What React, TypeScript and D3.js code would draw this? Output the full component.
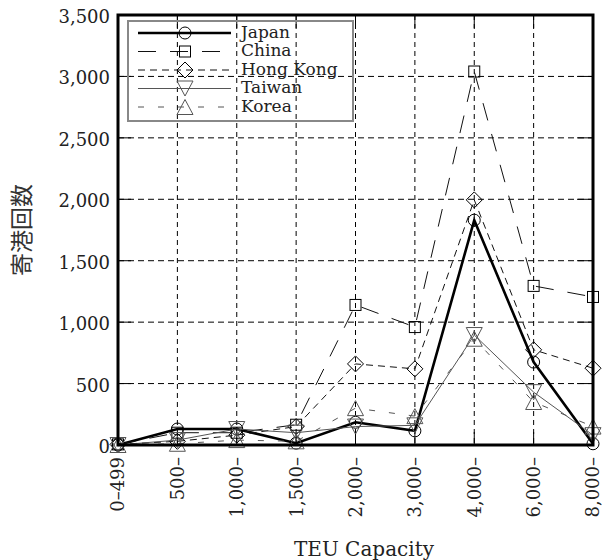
import React from "react";
import * as d3 from "d3";

const categories = ["0–499", "500–", "1,000–", "1,500–", "2,000–", "3,000–", "4,000–", "6,000–", "8,000–"];
const japan = [0, 130, 130, 15, 185, 115, 1830, 675, 10];
const china = [5, 100, 100, 165, 1140, 960, 3040, 1295, 1205];
const hongKong = [5, 30, 80, 150, 660, 620, 1995, 775, 625];
const taiwan = [0, 40, 130, 100, 150, 160, 895, 430, 80];
const korea = [0, 10, 40, 30, 300, 235, 865, 350, 150];
const yTicks = [0, 500, 1000, 1500, 2000, 2500, 3000, 3500];

const seriesNames = ["Japan", "China", "Hong Kong", "Taiwan", "Korea"];
const seriesValues = [japan, china, hongKong, taiwan, korea];

type Style = { stroke: string; width: number; dash: string | null; marker: string; mstroke: string };
const styles: Style[] = [
  { stroke: "#000", width: 2.6, dash: null, marker: "circle", mstroke: "#000" },
  { stroke: "#111", width: 1, dash: "18,14", marker: "square", mstroke: "#000" },
  { stroke: "#111", width: 1, dash: "7,5", marker: "diamond", mstroke: "#000" },
  { stroke: "#555", width: 1, dash: null, marker: "tridown", mstroke: "#555" },
  { stroke: "#555", width: 1, dash: "6,14", marker: "triup", mstroke: "#555" },
];

const W = 602, H = 560;
const left = 118, right = 593, top = 15, bottom = 445;
const FONT = "'DejaVu Serif', serif";

function Marker({ type, x, y, color }: { type: string; x: number; y: number; color: string }) {
  const common = { fill: "none", stroke: color, strokeWidth: 1 };
  if (type === "circle") return <circle cx={x} cy={y} r={6} {...common} />;
  if (type === "square") return <rect x={x - 5.5} y={y - 5.5} width={11} height={11} {...common} />;
  if (type === "diamond") return <path d={`M${x},${y - 8}L${x + 8},${y}L${x},${y + 8}L${x - 8},${y}Z`} {...common} />;
  if (type === "tridown") return <path d={`M${x - 8},${y - 7.5}L${x + 8},${y - 7.5}L${x},${y + 7.5}Z`} {...common} />;
  return <path d={`M${x - 8},${y + 7.5}L${x + 8},${y + 7.5}L${x},${y - 7.5}Z`} {...common} />;
}

export default function App() {
  const x = d3.scalePoint<string>().domain(categories).range([left, right]);
  const y = d3.scaleLinear().domain([0, 3500]).range([bottom, top]);
  const fmt = d3.format(",");
  const line = d3
    .line<number>()
    .x((_, i) => x(categories[i]) as number)
    .y((v) => y(v));

  const legendY0 = 33, legendStep = 18.5;

  return (
    <svg width={W} height={H} style={{ position: "absolute", left: 0, top: 0, background: "#fff" }}>
      {/* grid */}
      {yTicks.map((t) => (
        <line key={"gy" + t} x1={left} x2={right} y1={y(t)} y2={y(t)} stroke="#000" strokeWidth={1} strokeDasharray="6,4" />
      ))}
      {categories.map((c) => (
        <line key={"gx" + c} x1={x(c)} x2={x(c)} y1={top} y2={bottom} stroke="#000" strokeWidth={1} strokeDasharray="5,4" />
      ))}
      {/* ticks inward */}
      {yTicks.map((t) => (
        <g key={"ty" + t}>
          <line x1={left} x2={left + 13} y1={y(t)} y2={y(t)} stroke="#000" strokeWidth={1} />
          <line x1={right - 16} x2={right} y1={y(t)} y2={y(t)} stroke="#000" strokeWidth={1} />
        </g>
      ))}
      {categories.map((c) => (
        <g key={"tx" + c}>
          <line x1={x(c)} x2={x(c)} y1={bottom - 13} y2={bottom} stroke="#000" strokeWidth={1} />
          <line x1={x(c)} x2={x(c)} y1={top} y2={top + 13} stroke="#000" strokeWidth={1} />
        </g>
      ))}
      {/* series */}
      {seriesValues.map((vals, si) => {
        const s = styles[si];
        return (
          <g key={"s" + si}>
            <path d={line(vals) || ""} fill="none" stroke={s.stroke} strokeWidth={s.width} strokeDasharray={s.dash || undefined} />
            {vals.map((v, i) => (
              <Marker key={i} type={s.marker} x={x(categories[i]) as number} y={y(v)} color={s.mstroke} />
            ))}
          </g>
        );
      })}
      {/* frame */}
      <rect x={left} y={top} width={right - left} height={bottom - top} fill="none" stroke="#000" strokeWidth={3} />
      {/* y tick labels */}
      {yTicks.map((t) => (
        <text key={"yl" + t} x={110} y={y(t) + 3} textAnchor="end" dominantBaseline="middle" fontFamily={FONT} fontSize={18} fill="#222">
          {fmt(t)}
        </text>
      ))}
      {/* x tick labels */}
      {categories.map((c) => (
        <text
          key={"xl" + c}
          transform={`translate(${x(c)},${457}) rotate(-90)`}
          textAnchor="end"
          dy="0.36em"
          fontFamily={FONT}
          fontSize={18}
          fill="#222"
        >
          {c}
        </text>
      ))}
      {/* axis titles */}
      <text x={364} y={556} textAnchor="middle" fontFamily={FONT} fontSize={20} fill="#222">
        TEU Capacity
      </text>
      <text
        transform={`translate(24,230) rotate(-90)`}
        textAnchor="middle"
        dominantBaseline="middle"
        fontFamily="'Noto Sans CJK JP', sans-serif"
        fontSize={23}
        fill="#333"
      >
        寄港回数
      </text>
      {/* legend */}
      <rect x={128} y={21} width={225} height={100} fill="none" stroke="#888" strokeWidth={2} />
      {seriesNames.map((n, i) => {
        const s = styles[i];
        const ly = legendY0 + i * legendStep;
        return (
          <g key={"lg" + n}>
            <line x1={138} x2={231} y1={ly} y2={ly} stroke={s.stroke} strokeWidth={s.width} strokeDasharray={s.dash || undefined} />
            <Marker type={s.marker} x={185} y={ly} color={s.mstroke} />
            <text x={241} y={ly} dominantBaseline="middle" fontFamily={FONT} fontSize={17} fill="#222">
              {n}
            </text>
          </g>
        );
      })}
    </svg>
  );
}
